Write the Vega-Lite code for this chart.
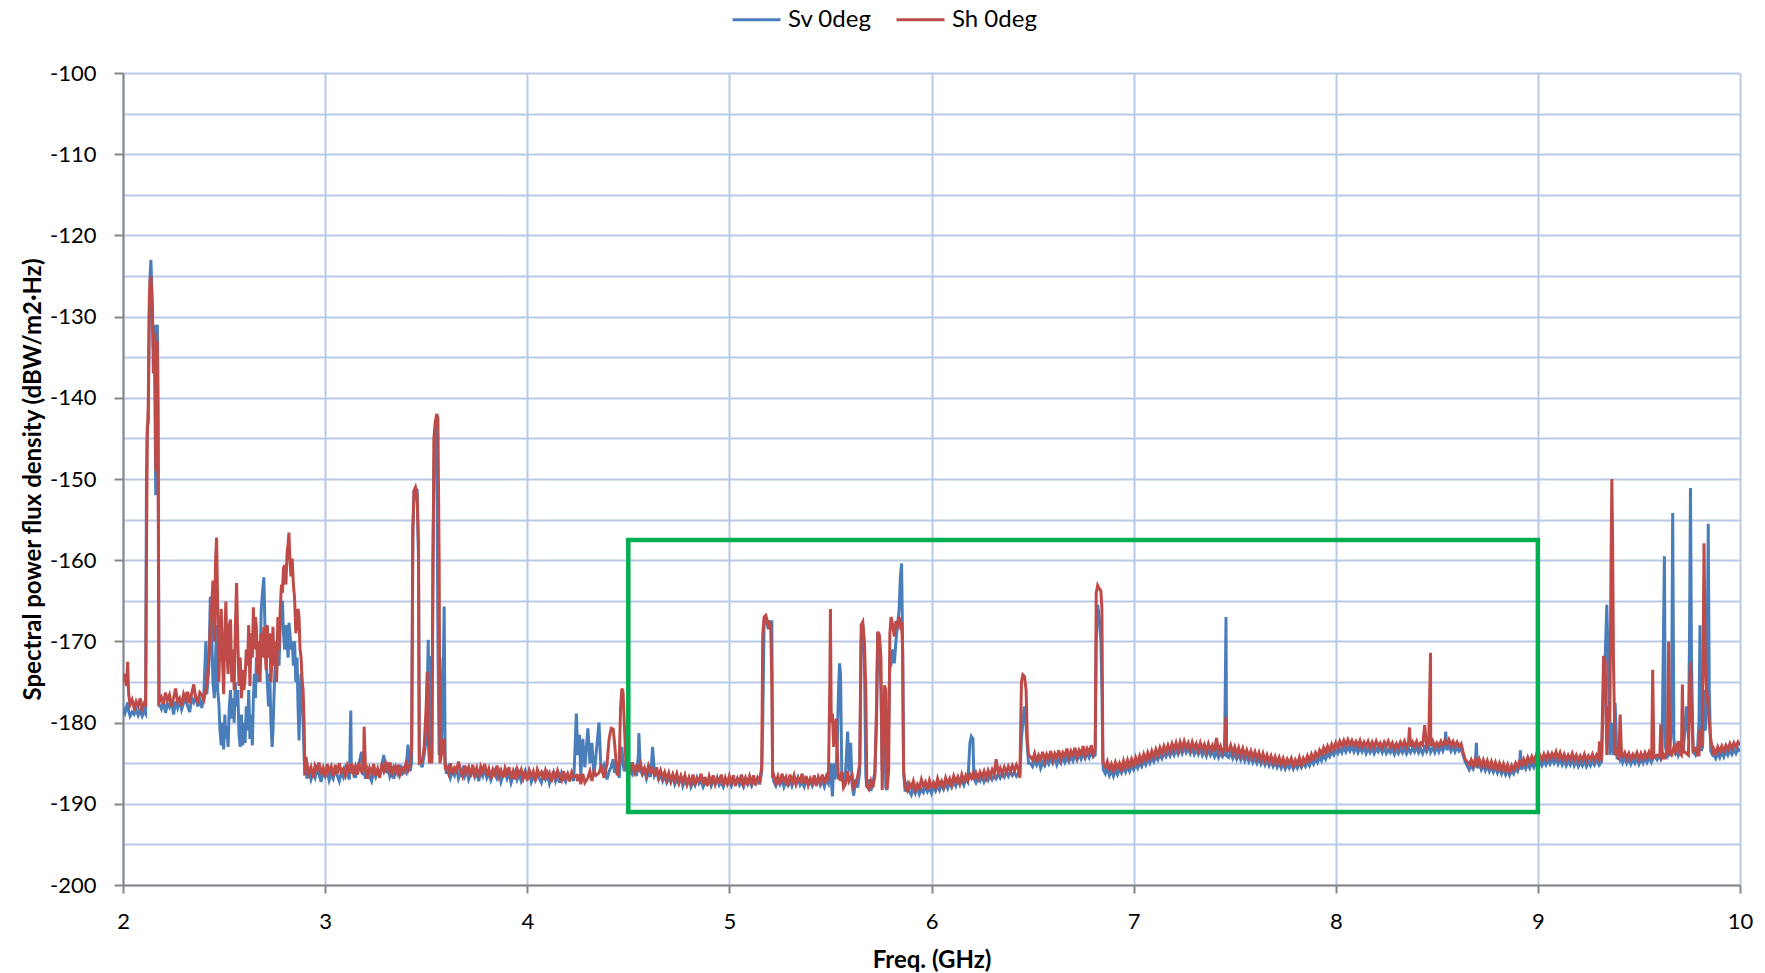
{
  "$schema": "https://vega.github.io/schema/vega-lite/v6.json",
  "width": 1617,
  "height": 812,
  "autosize": {"type": "none"},
  "padding": {"left": 123, "top": 73, "right": 25, "bottom": 88},
  "background": "white",
  "config": {
    "view": {"stroke": null},
    "font": "Lato",
    "axis": {
      "labelFont": "Lato", "labelFontSize": 22, "labelColor": "#000000", "labelFlush": false,
      "titleFont": "Lato", "titleFontSize": 24, "titleFontWeight": "bold", "titleColor": "#000000",
      "domainColor": "#868686", "domainWidth": 2,
      "tickColor": "#868686", "tickWidth": 2,
      "gridColor": "#b9cae9", "gridWidth": 2, "gridOpacity": 1
    },
    "legend": {"labelFont": "Lato", "labelFontSize": 24, "labelColor": "#000000"}
  },
  "datasets": {
    "spec": [
      {"f":2.000,"a":-179.0,"b":-175.0},{"f":2.005,"a":-178.5,"b":-174.0},{"f":2.010,"a":-178.8,"b":-174.5},{"f":2.018,"a":-178.0,"b":-175.5},{"f":2.023,"a":-177.5,"b":-172.5},{"f":2.028,"a":-178.6,"b":-176.5},{"f":2.035,"a":-179.2,"b":-177.8},{"f":2.045,"a":-178.7,"b":-177.2},{"f":2.055,"a":-179.0,"b":-178.2},{"f":2.065,"a":-178.4,"b":-177.4},{"f":2.075,"a":-179.1,"b":-178.0},{"f":2.085,"a":-178.5,"b":-177.0},{"f":2.095,"a":-179.2,"b":-178.3},{"f":2.105,"a":-178.6,"b":-177.6},{"f":2.112,"a":-178.9,"b":-178.0},
      {"f":2.116,"a":-150,"b":-160},{"f":2.120,"a":-143.5,"b":-145},{"f":2.125,"a":-143,"b":-141},{"f":2.130,"a":-130,"b":-128},{"f":2.134,"a":-125,"b":-125.5},{"f":2.138,"a":-123,"b":-125},{"f":2.142,"a":-126,"b":-127},{"f":2.146,"a":-131,"b":-129},{"f":2.150,"a":-134,"b":-137},{"f":2.154,"a":-131,"b":-133},{"f":2.158,"a":-140,"b":-132},{"f":2.162,"a":-152,"b":-149},{"f":2.166,"a":-132,"b":-137},{"f":2.170,"a":-131,"b":-133},{"f":2.174,"a":-142,"b":-150},{"f":2.178,"a":-177.8,"b":-177.5},{"f":2.185,"a":-178.0,"b":-177.2},
      {"f":2.19,"a":-178.3,"b":-176.9},{"f":2.20,"a":-177.3,"b":-177.7},{"f":2.21,"a":-178.8,"b":-176.3},{"f":2.22,"a":-177.7,"b":-177.3},{"f":2.23,"a":-178.1,"b":-176.6},{"f":2.24,"a":-177.1,"b":-178.0},{"f":2.25,"a":-179.0,"b":-177.0},{"f":2.26,"a":-177.4,"b":-175.8},{"f":2.27,"a":-178.2,"b":-177.4},{"f":2.28,"a":-177.2,"b":-177.0},{"f":2.29,"a":-178.4,"b":-177.9},{"f":2.30,"a":-177.6,"b":-176.5},{"f":2.31,"a":-176.8,"b":-177.2},{"f":2.32,"a":-178.0,"b":-176.2},{"f":2.33,"a":-178.7,"b":-177.6},{"f":2.34,"a":-177.0,"b":-176.4},{"f":2.35,"a":-177.5,"b":-175.3},{"f":2.36,"a":-176.7,"b":-177.0},{"f":2.37,"a":-178.0,"b":-177.4},{"f":2.38,"a":-177.2,"b":-176.3},{"f":2.39,"a":-178.2,"b":-176.6},{"f":2.40,"a":-176.4,"b":-177.2},
      {"f":2.41,"a":-170.0,"b":-176.0},{"f":2.415,"a":-176.5,"b":-175.5},{"f":2.425,"a":-173.0,"b":-172.0},{"f":2.432,"a":-164.5,"b":-168.0},{"f":2.438,"a":-168.0,"b":-166.0},{"f":2.445,"a":-175.0,"b":-162.5},{"f":2.452,"a":-177.0,"b":-170.0},{"f":2.458,"a":-172.0,"b":-160.0},
      {"f":2.463,"a":-168.0,"b":-157.2},{"f":2.468,"a":-176.0,"b":-165.0},{"f":2.474,"a":-177.5,"b":-175.0},{"f":2.480,"a":-181.0,"b":-170.0},{"f":2.486,"a":-182.8,"b":-166.0},{"f":2.492,"a":-180.0,"b":-172.0},{"f":2.498,"a":-183.3,"b":-176.5},{"f":2.504,"a":-179.0,"b":-169.0},{"f":2.509,"a":-182.0,"b":-165.1},{"f":2.514,"a":-180.5,"b":-171.0},{"f":2.520,"a":-183.0,"b":-174.0},{"f":2.526,"a":-178.0,"b":-168.0},{"f":2.532,"a":-176.0,"b":-167.3},{"f":2.538,"a":-179.5,"b":-175.0},{"f":2.544,"a":-177.0,"b":-171.0},{"f":2.550,"a":-180.0,"b":-176.0},{"f":2.556,"a":-175.0,"b":-168.0},{"f":2.562,"a":-178.0,"b":-162.8},{"f":2.568,"a":-176.0,"b":-170.0},{"f":2.574,"a":-181.5,"b":-175.5},{"f":2.580,"a":-183.0,"b":-172.0},{"f":2.586,"a":-179.0,"b":-177.0},{"f":2.592,"a":-182.8,"b":-173.5},{"f":2.598,"a":-180.0,"b":-176.0},{"f":2.604,"a":-182.5,"b":-174.5},{"f":2.610,"a":-178.0,"b":-171.0},{"f":2.616,"a":-181.0,"b":-173.0},{"f":2.622,"a":-176.0,"b":-168.0},{"f":2.628,"a":-182.0,"b":-175.5},{"f":2.634,"a":-179.0,"b":-169.0},{"f":2.640,"a":-182.8,"b":-172.0},{"f":2.645,"a":-177.0,"b":-165.8},{"f":2.650,"a":-174.0,"b":-171.0},{"f":2.655,"a":-177.0,"b":-167.0},{"f":2.660,"a":-172.0,"b":-168.2},{"f":2.666,"a":-175.0,"b":-174.0},{"f":2.672,"a":-170.0,"b":-170.0},{"f":2.678,"a":-173.0,"b":-175.0},{"f":2.684,"a":-166.0,"b":-169.0},{"f":2.690,"a":-164.0,"b":-172.0},{"f":2.697,"a":-162.1,"b":-168.2},{"f":2.702,"a":-168.0,"b":-170.0},{"f":2.708,"a":-172.0,"b":-173.5},{"f":2.714,"a":-175.0,"b":-168.0},{"f":2.720,"a":-178.0,"b":-172.0},{"f":2.726,"a":-174.0,"b":-169.0},{"f":2.732,"a":-180.0,"b":-175.0},{"f":2.738,"a":-183.0,"b":-171.0},{"f":2.742,"a":-181.0,"b":-168.2},{"f":2.748,"a":-176.0,"b":-173.0},{"f":2.754,"a":-172.0,"b":-170.0},{"f":2.760,"a":-174.0,"b":-175.0},{"f":2.766,"a":-170.0,"b":-167.0},{"f":2.772,"a":-173.0,"b":-171.0},{"f":2.778,"a":-168.0,"b":-166.0},{"f":2.784,"a":-167.0,"b":-163.0},{"f":2.789,"a":-165.0,"b":-164.0},{"f":2.794,"a":-169.0,"b":-161.0},{"f":2.800,"a":-171.0,"b":-160.6},{"f":2.806,"a":-168.0,"b":-163.0},{"f":2.812,"a":-170.0,"b":-159.0},{"f":2.817,"a":-172.0,"b":-158.0},{"f":2.821,"a":-167.7,"b":-156.6},{"f":2.826,"a":-169.0,"b":-160.0},{"f":2.831,"a":-171.0,"b":-162.0},{"f":2.837,"a":-170.0,"b":-159.8},{"f":2.843,"a":-173.0,"b":-163.0},{"f":2.849,"a":-170.0,"b":-164.7},{"f":2.855,"a":-175.0,"b":-169.0},{"f":2.861,"a":-172.0,"b":-168.0},{"f":2.866,"a":-178.0,"b":-166.0},{"f":2.871,"a":-182.2,"b":-167.0},{"f":2.876,"a":-176.0,"b":-171.0},{"f":2.881,"a":-174.0,"b":-172.0},{"f":2.886,"a":-177.0,"b":-174.6},{"f":2.891,"a":-180.0,"b":-176.0},{"f":2.896,"a":-184.0,"b":-180.0},{"f":2.900,"a":-186.5,"b":-186.5},{"f":2.905,"a":-185.0,"b":-184.2},
      {"f":2.91,"a":-186.9,"b":-185.0},{"f":2.92,"a":-185.9,"b":-186.2},{"f":2.93,"a":-187.0,"b":-185.5},{"f":2.94,"a":-186.2,"b":-186.8},{"f":2.95,"a":-186.8,"b":-185.3},{"f":2.96,"a":-185.7,"b":-185.9},{"f":2.97,"a":-186.4,"b":-184.9},{"f":2.98,"a":-187.3,"b":-186.4},{"f":2.99,"a":-186.0,"b":-185.6},{"f":3.00,"a":-186.6,"b":-186.7},{"f":3.01,"a":-185.9,"b":-185.1},{"f":3.02,"a":-187.1,"b":-186.0},{"f":3.03,"a":-186.3,"b":-185.4},{"f":3.04,"a":-186.9,"b":-186.6},{"f":3.05,"a":-185.8,"b":-185.2},{"f":3.06,"a":-186.5,"b":-186.3},{"f":3.07,"a":-187.2,"b":-185.0},{"f":3.08,"a":-186.1,"b":-186.1},{"f":3.09,"a":-186.7,"b":-185.7},{"f":3.10,"a":-185.6,"b":-186.5},{"f":3.11,"a":-186.4,"b":-185.3},{"f":3.12,"a":-187.0,"b":-186.0},{"f":3.127,"a":-178.5,"b":-185.6},{"f":3.13,"a":-186.3,"b":-185.0},{"f":3.14,"a":-185.7,"b":-186.2},{"f":3.15,"a":-186.8,"b":-185.4},{"f":3.16,"a":-185.4,"b":-186.4},{"f":3.17,"a":-184.8,"b":-185.2},{"f":3.18,"a":-183.6,"b":-186.0},{"f":3.19,"a":-186.5,"b":-185.5},{"f":3.193,"a":-186.0,"b":-180.5},{"f":3.20,"a":-186.9,"b":-185.8},{"f":3.21,"a":-185.8,"b":-186.9},{"f":3.22,"a":-186.6,"b":-185.6},{"f":3.23,"a":-187.2,"b":-186.2},{"f":3.24,"a":-186.0,"b":-185.1},{"f":3.25,"a":-186.7,"b":-186.5},{"f":3.26,"a":-185.9,"b":-185.7},{"f":3.27,"a":-186.4,"b":-186.8},{"f":3.28,"a":-185.5,"b":-185.3},{"f":3.29,"a":-184.0,"b":-186.0},{"f":3.30,"a":-186.2,"b":-185.0},{"f":3.31,"a":-185.4,"b":-185.8},{"f":3.32,"a":-186.6,"b":-184.9},{"f":3.33,"a":-185.8,"b":-186.2},{"f":3.34,"a":-186.9,"b":-185.5},{"f":3.35,"a":-185.6,"b":-186.1},{"f":3.36,"a":-186.3,"b":-185.2},{"f":3.37,"a":-185.2,"b":-186.4},{"f":3.38,"a":-186.5,"b":-185.6},{"f":3.39,"a":-185.7,"b":-186.0},{"f":3.40,"a":-186.1,"b":-185.0},{"f":3.41,"a":-182.7,"b":-185.9},{"f":3.42,"a":-186.0,"b":-185.2},{"f":3.428,"a":-185.0,"b":-183.0},
      {"f":3.434,"a":-156.3,"b":-156.3},{"f":3.440,"a":-151.4,"b":-151.4},{"f":3.447,"a":-152.0,"b":-151.0},{"f":3.455,"a":-151.2,"b":-152.0},{"f":3.462,"a":-160.0,"b":-158.0},{"f":3.466,"a":-184.5,"b":-185.0},{"f":3.48,"a":-185.5,"b":-184.8},{"f":3.49,"a":-184.0,"b":-183.0},{"f":3.500,"a":-182.0,"b":-178.0},{"f":3.505,"a":-177.0,"b":-173.7},{"f":3.510,"a":-169.8,"b":-182.0},{"f":3.516,"a":-183.0,"b":-185.0},{"f":3.522,"a":-171.8,"b":-184.0},{"f":3.528,"a":-184.5,"b":-185.0},{"f":3.533,"a":-160.0,"b":-165.0},{"f":3.538,"a":-150.0,"b":-145.0},{"f":3.545,"a":-143.5,"b":-143.0},{"f":3.552,"a":-144.0,"b":-142.0},{"f":3.558,"a":-170.0,"b":-142.5},{"f":3.564,"a":-184.0,"b":-160.0},{"f":3.568,"a":-172.0,"b":-185.0},{"f":3.575,"a":-183.0,"b":-184.0},{"f":3.582,"a":-178.0,"b":-182.5},{"f":3.589,"a":-165.7,"b":-182.0},{"f":3.594,"a":-185.0,"b":-185.5},
      {"f":3.60,"a":-186.3,"b":-185.4},{"f":3.61,"a":-185.6,"b":-186.2},{"f":3.62,"a":-186.8,"b":-185.0},{"f":3.63,"a":-186.0,"b":-186.4},{"f":3.64,"a":-186.5,"b":-185.6},{"f":3.65,"a":-185.4,"b":-186.0},{"f":3.66,"a":-186.9,"b":-184.8},{"f":3.67,"a":-186.2,"b":-185.9},{"f":3.68,"a":-185.7,"b":-186.6},{"f":3.69,"a":-186.6,"b":-185.3},{"f":3.70,"a":-185.9,"b":-186.1},{"f":3.71,"a":-187.0,"b":-185.5},{"f":3.72,"a":-186.3,"b":-186.7},{"f":3.73,"a":-185.8,"b":-185.2},{"f":3.74,"a":-186.7,"b":-186.3},{"f":3.75,"a":-186.1,"b":-185.6},{"f":3.76,"a":-187.2,"b":-186.8},{"f":3.77,"a":-186.0,"b":-185.4},{"f":3.78,"a":-186.6,"b":-186.0},{"f":3.79,"a":-185.7,"b":-185.1},{"f":3.80,"a":-186.8,"b":-186.5},{"f":3.81,"a":-186.2,"b":-185.7},{"f":3.82,"a":-187.1,"b":-186.9},{"f":3.83,"a":-186.4,"b":-185.8},{"f":3.84,"a":-185.9,"b":-186.4},{"f":3.85,"a":-186.8,"b":-185.3},{"f":3.86,"a":-186.1,"b":-186.6},{"f":3.87,"a":-187.3,"b":-185.9},{"f":3.88,"a":-186.5,"b":-186.8},{"f":3.89,"a":-186.0,"b":-185.6},{"f":3.90,"a":-186.9,"b":-186.3},{"f":3.91,"a":-186.2,"b":-185.5},{"f":3.92,"a":-187.4,"b":-186.9},{"f":3.93,"a":-186.6,"b":-186.0},{"f":3.94,"a":-186.0,"b":-187.0},{"f":3.95,"a":-187.0,"b":-185.7},{"f":3.96,"a":-186.3,"b":-186.4},{"f":3.97,"a":-187.2,"b":-185.8},{"f":3.98,"a":-186.5,"b":-186.9},{"f":3.99,"a":-185.9,"b":-186.2},{"f":4.00,"a":-186.8,"b":-187.1},{"f":4.01,"a":-186.1,"b":-185.9},{"f":4.02,"a":-187.3,"b":-186.6},{"f":4.03,"a":-186.6,"b":-186.0},{"f":4.04,"a":-187.1,"b":-187.2},{"f":4.05,"a":-186.2,"b":-185.8},{"f":4.06,"a":-186.9,"b":-186.5},{"f":4.07,"a":-187.4,"b":-186.1},{"f":4.08,"a":-186.4,"b":-187.0},{"f":4.09,"a":-187.0,"b":-185.9},{"f":4.10,"a":-186.3,"b":-186.7},{"f":4.11,"a":-187.5,"b":-186.2},{"f":4.12,"a":-186.7,"b":-187.3},{"f":4.13,"a":-186.1,"b":-186.0},{"f":4.14,"a":-187.2,"b":-186.8},{"f":4.15,"a":-186.5,"b":-185.9},{"f":4.16,"a":-187.4,"b":-186.6},{"f":4.17,"a":-186.2,"b":-187.1},{"f":4.18,"a":-186.9,"b":-186.0},{"f":4.19,"a":-187.3,"b":-186.9},{"f":4.20,"a":-186.4,"b":-186.3},{"f":4.21,"a":-187.0,"b":-187.2},{"f":4.22,"a":-186.6,"b":-186.1},{"f":4.23,"a":-187.2,"b":-186.7},
      {"f":4.243,"a":-178.9,"b":-186.5},{"f":4.25,"a":-184.0,"b":-187.2},{"f":4.258,"a":-181.5,"b":-186.4},{"f":4.265,"a":-186.5,"b":-187.6},{"f":4.275,"a":-182.0,"b":-186.3},{"f":4.285,"a":-185.5,"b":-187.4},{"f":4.30,"a":-180.7,"b":-186.8},{"f":4.31,"a":-185.0,"b":-186.0},{"f":4.32,"a":-182.5,"b":-187.2},{"f":4.33,"a":-186.6,"b":-186.0},{"f":4.34,"a":-184.0,"b":-186.5},{"f":4.355,"a":-180.0,"b":-186.2},{"f":4.365,"a":-186.0,"b":-185.4},{"f":4.38,"a":-185.2,"b":-186.8},{"f":4.395,"a":-187.0,"b":-185.0},{"f":4.405,"a":-186.0,"b":-182.0},{"f":4.415,"a":-185.5,"b":-180.7},{"f":4.425,"a":-184.5,"b":-180.8},{"f":4.432,"a":-186.2,"b":-182.5},{"f":4.445,"a":-185.0,"b":-186.5},{"f":4.455,"a":-186.8,"b":-185.0},{"f":4.462,"a":-184.0,"b":-178.0},{"f":4.468,"a":-183.0,"b":-175.8},{"f":4.474,"a":-185.0,"b":-176.2},{"f":4.480,"a":-186.0,"b":-180.0},{"f":4.49,"a":-184.6,"b":-186.0},
      {"f":4.50,"a":-186.0,"b":-185.2},{"f":4.51,"a":-185.4,"b":-185.9},{"f":4.52,"a":-186.3,"b":-184.9},{"f":4.53,"a":-185.7,"b":-186.1},{"f":4.54,"a":-186.6,"b":-185.4},{"f":4.55,"a":-184.0,"b":-185.8},{"f":4.552,"a":-181.3,"b":-185.5},{"f":4.56,"a":-185.9,"b":-185.0},{"f":4.57,"a":-186.4,"b":-186.2},{"f":4.58,"a":-185.8,"b":-185.6},{"f":4.59,"a":-186.9,"b":-186.4},{"f":4.60,"a":-186.1,"b":-185.3},{"f":4.61,"a":-186.7,"b":-186.0},{"f":4.62,"a":-183.0,"b":-185.7},{"f":4.63,"a":-186.5,"b":-186.6},{"f":4.64,"a":-186.0,"b":-185.5},{"f":4.65,"a":-187.0,"b":-186.7},{"f":4.66,"a":-186.4,"b":-185.9},{"f":4.67,"a":-187.2,"b":-186.8},{"f":4.68,"a":-186.6,"b":-186.1},{"f":4.69,"a":-187.4,"b":-187.0},{"f":4.70,"a":-186.8,"b":-186.2},{"f":4.71,"a":-187.3,"b":-187.2},{"f":4.72,"a":-186.5,"b":-186.4},{"f":4.73,"a":-187.6,"b":-187.1},{"f":4.74,"a":-187.0,"b":-186.3},{"f":4.75,"a":-187.5,"b":-187.4},{"f":4.76,"a":-186.7,"b":-186.6},{"f":4.77,"a":-187.8,"b":-187.3},{"f":4.78,"a":-187.1,"b":-186.5},{"f":4.79,"a":-187.6,"b":-187.6},{"f":4.80,"a":-186.9,"b":-186.8},{"f":4.81,"a":-187.9,"b":-187.5},{"f":4.82,"a":-187.2,"b":-186.4},{"f":4.83,"a":-187.7,"b":-187.7},{"f":4.84,"a":-186.8,"b":-186.9},{"f":4.85,"a":-187.5,"b":-187.2},{"f":4.86,"a":-187.1,"b":-186.3},{"f":4.87,"a":-187.9,"b":-187.6},{"f":4.88,"a":-187.3,"b":-186.7},{"f":4.89,"a":-187.6,"b":-187.8},{"f":4.90,"a":-186.9,"b":-186.6},{"f":4.91,"a":-187.8,"b":-187.4},{"f":4.92,"a":-187.2,"b":-186.5},{"f":4.93,"a":-187.5,"b":-187.6},{"f":4.94,"a":-186.8,"b":-186.9},{"f":4.95,"a":-187.7,"b":-187.3},{"f":4.96,"a":-187.3,"b":-186.4},{"f":4.97,"a":-187.9,"b":-187.7},{"f":4.98,"a":-187.0,"b":-186.8},{"f":4.99,"a":-187.6,"b":-187.5},{"f":5.00,"a":-187.2,"b":-186.6},{"f":5.01,"a":-187.8,"b":-187.4},{"f":5.02,"a":-187.1,"b":-186.5},{"f":5.03,"a":-187.5,"b":-187.8},{"f":5.04,"a":-186.9,"b":-186.9},{"f":5.05,"a":-187.7,"b":-187.3},{"f":5.06,"a":-187.3,"b":-186.4},{"f":5.07,"a":-187.9,"b":-187.6},{"f":5.08,"a":-187.0,"b":-186.8},{"f":5.09,"a":-187.6,"b":-187.5},{"f":5.10,"a":-187.2,"b":-186.6},{"f":5.11,"a":-187.8,"b":-187.4},{"f":5.12,"a":-187.1,"b":-186.5},{"f":5.13,"a":-187.5,"b":-187.7},{"f":5.14,"a":-186.9,"b":-186.8},{"f":5.15,"a":-187.6,"b":-187.2},{"f":5.16,"a":-186.0,"b":-185.5},
      {"f":5.165,"a":-180.0,"b":-169.2},{"f":5.172,"a":-167.5,"b":-167.0},{"f":5.180,"a":-167.2,"b":-166.8},{"f":5.188,"a":-168.0,"b":-167.5},{"f":5.196,"a":-167.4,"b":-168.5},{"f":5.204,"a":-168.5,"b":-167.6},{"f":5.210,"a":-167.4,"b":-175.0},{"f":5.214,"a":-186.5,"b":-186.8},
      {"f":5.22,"a":-187.3,"b":-186.5},{"f":5.23,"a":-187.8,"b":-187.4},{"f":5.24,"a":-187.0,"b":-186.6},{"f":5.25,"a":-187.6,"b":-187.6},{"f":5.26,"a":-186.9,"b":-186.3},{"f":5.27,"a":-187.9,"b":-187.2},{"f":5.28,"a":-187.2,"b":-186.7},{"f":5.29,"a":-187.7,"b":-187.8},{"f":5.30,"a":-187.0,"b":-186.4},{"f":5.31,"a":-187.8,"b":-187.3},{"f":5.32,"a":-187.1,"b":-186.5},{"f":5.33,"a":-187.5,"b":-187.6},{"f":5.34,"a":-186.8,"b":-186.8},{"f":5.35,"a":-187.7,"b":-187.2},{"f":5.36,"a":-187.3,"b":-186.3},{"f":5.37,"a":-187.9,"b":-187.5},{"f":5.38,"a":-187.0,"b":-186.6},{"f":5.39,"a":-187.6,"b":-187.7},{"f":5.40,"a":-187.2,"b":-186.9},{"f":5.41,"a":-187.8,"b":-187.4},{"f":5.42,"a":-187.1,"b":-186.5},{"f":5.43,"a":-187.5,"b":-187.8},{"f":5.44,"a":-186.9,"b":-186.7},{"f":5.45,"a":-187.7,"b":-187.3},{"f":5.46,"a":-187.2,"b":-186.4},{"f":5.47,"a":-187.9,"b":-187.5},{"f":5.48,"a":-187.0,"b":-186.6},{"f":5.49,"a":-187.5,"b":-187.2},
      {"f":5.497,"a":-186.0,"b":-175.0},{"f":5.500,"a":-185.0,"b":-166.0},{"f":5.504,"a":-187.0,"b":-180.0},{"f":5.510,"a":-189.1,"b":-178.9},{"f":5.516,"a":-185.0,"b":-183.0},{"f":5.522,"a":-187.0,"b":-181.0},{"f":5.528,"a":-186.0,"b":-179.5},{"f":5.534,"a":-182.0,"b":-183.5},{"f":5.540,"a":-176.0,"b":-187.0},{"f":5.545,"a":-172.7,"b":-186.5},{"f":5.550,"a":-174.0,"b":-187.2},{"f":5.556,"a":-186.0,"b":-186.0},{"f":5.565,"a":-187.5,"b":-188.0},{"f":5.575,"a":-186.0,"b":-187.5},{"f":5.585,"a":-181.1,"b":-186.0},{"f":5.592,"a":-186.0,"b":-187.2},{"f":5.600,"a":-182.5,"b":-186.8},{"f":5.607,"a":-187.6,"b":-186.5},{"f":5.615,"a":-189.0,"b":-188.0},{"f":5.625,"a":-187.0,"b":-187.5},{"f":5.635,"a":-188.0,"b":-186.6},{"f":5.645,"a":-186.0,"b":-185.0},{"f":5.652,"a":-170.0,"b":-168.0},{"f":5.660,"a":-168.0,"b":-167.6},{"f":5.668,"a":-172.0,"b":-170.0},{"f":5.675,"a":-186.5,"b":-176.0},{"f":5.680,"a":-188.0,"b":-187.8},{"f":5.690,"a":-187.0,"b":-188.2},{"f":5.700,"a":-188.4,"b":-187.2},{"f":5.710,"a":-187.5,"b":-188.0},{"f":5.720,"a":-186.0,"b":-186.5},{"f":5.728,"a":-180.0,"b":-178.0},{"f":5.734,"a":-169.0,"b":-168.8},{"f":5.742,"a":-170.0,"b":-169.2},{"f":5.750,"a":-176.0,"b":-172.0},{"f":5.756,"a":-186.0,"b":-188.3},{"f":5.762,"a":-184.0,"b":-183.0},{"f":5.768,"a":-176.0,"b":-175.4},{"f":5.774,"a":-188.0,"b":-176.0},{"f":5.780,"a":-188.3,"b":-188.2},{"f":5.788,"a":-180.0,"b":-186.0},{"f":5.794,"a":-172.5,"b":-169.0},{"f":5.800,"a":-172.7,"b":-167.0},{"f":5.808,"a":-171.0,"b":-168.0},{"f":5.816,"a":-172.7,"b":-169.4},{"f":5.824,"a":-170.0,"b":-167.5},{"f":5.832,"a":-168.0,"b":-168.0},{"f":5.840,"a":-166.0,"b":-167.0},{"f":5.846,"a":-162.0,"b":-168.0},{"f":5.852,"a":-160.4,"b":-167.6},{"f":5.857,"a":-170.0,"b":-171.0},{"f":5.862,"a":-186.0,"b":-186.0},{"f":5.870,"a":-188.5,"b":-188.0},{"f":5.880,"a":-187.6,"b":-188.4},
      {"f":5.89,"a":-188.4,"b":-187.5},{"f":5.90,"a":-188.9,"b":-188.0},{"f":5.91,"a":-188.1,"b":-187.2},{"f":5.92,"a":-188.7,"b":-188.3},{"f":5.93,"a":-187.9,"b":-187.6},{"f":5.94,"a":-188.8,"b":-188.1},{"f":5.95,"a":-188.2,"b":-187.0},{"f":5.96,"a":-188.6,"b":-187.8},{"f":5.97,"a":-187.8,"b":-187.3},{"f":5.98,"a":-188.5,"b":-188.2},{"f":5.99,"a":-188.0,"b":-187.1},{"f":6.00,"a":-188.7,"b":-187.9},{"f":6.01,"a":-187.9,"b":-187.4},{"f":6.02,"a":-188.4,"b":-188.0},{"f":6.03,"a":-187.7,"b":-186.9},{"f":6.04,"a":-188.3,"b":-187.7},{"f":6.05,"a":-187.6,"b":-187.2},{"f":6.06,"a":-188.2,"b":-187.9},{"f":6.07,"a":-187.5,"b":-186.8},{"f":6.08,"a":-188.1,"b":-187.5},{"f":6.09,"a":-187.3,"b":-186.9},{"f":6.10,"a":-187.9,"b":-187.7},{"f":6.11,"a":-187.2,"b":-186.6},{"f":6.12,"a":-187.8,"b":-187.3},{"f":6.13,"a":-187.0,"b":-186.7},{"f":6.14,"a":-187.6,"b":-187.5},{"f":6.15,"a":-187.1,"b":-186.4},{"f":6.16,"a":-187.7,"b":-187.2},{"f":6.17,"a":-186.9,"b":-186.5},{"f":6.18,"a":-187.3,"b":-187.1},{"f":6.19,"a":-182.5,"b":-186.4},{"f":6.197,"a":-181.7,"b":-186.8},{"f":6.205,"a":-182.0,"b":-186.3},{"f":6.21,"a":-186.9,"b":-187.0},{"f":6.22,"a":-187.4,"b":-186.2},{"f":6.23,"a":-186.8,"b":-186.9},{"f":6.24,"a":-187.2,"b":-186.1},{"f":6.25,"a":-186.6,"b":-186.7},{"f":6.26,"a":-187.3,"b":-186.0},{"f":6.27,"a":-186.7,"b":-186.8},{"f":6.28,"a":-187.1,"b":-185.9},{"f":6.29,"a":-186.4,"b":-186.6},{"f":6.30,"a":-187.0,"b":-185.8},{"f":6.31,"a":-186.5,"b":-186.4},{"f":6.32,"a":-186.9,"b":-184.5},{"f":6.33,"a":-186.3,"b":-186.2},{"f":6.34,"a":-186.8,"b":-185.6},{"f":6.35,"a":-186.2,"b":-186.3},{"f":6.36,"a":-186.7,"b":-185.5},{"f":6.37,"a":-186.1,"b":-186.1},{"f":6.38,"a":-186.6,"b":-185.4},{"f":6.39,"a":-186.0,"b":-186.0},{"f":6.40,"a":-186.5,"b":-185.3},{"f":6.41,"a":-186.1,"b":-185.9},{"f":6.42,"a":-186.6,"b":-185.2},{"f":6.43,"a":-186.2,"b":-185.8},{"f":6.437,"a":-186.6,"b":-186.8},
      {"f":6.445,"a":-182.0,"b":-175.0},{"f":6.452,"a":-180.0,"b":-174.1},{"f":6.460,"a":-178.0,"b":-174.3},{"f":6.468,"a":-180.5,"b":-176.0},{"f":6.474,"a":-183.0,"b":-182.0},{"f":6.48,"a":-185.0,"b":-184.0},
      {"f":6.49,"a":-185.0,"b":-184.2},{"f":6.50,"a":-185.4,"b":-184.6},{"f":6.51,"a":-184.7,"b":-183.8},{"f":6.52,"a":-185.2,"b":-184.9},{"f":6.53,"a":-184.5,"b":-184.0},{"f":6.54,"a":-185.6,"b":-184.5},{"f":6.55,"a":-184.9,"b":-183.6},{"f":6.56,"a":-185.3,"b":-184.7},{"f":6.57,"a":-184.6,"b":-183.9},{"f":6.58,"a":-185.1,"b":-184.4},{"f":6.59,"a":-184.4,"b":-183.5},{"f":6.60,"a":-185.0,"b":-184.6},{"f":6.61,"a":-184.3,"b":-183.8},{"f":6.62,"a":-185.2,"b":-184.3},{"f":6.63,"a":-184.6,"b":-183.4},{"f":6.64,"a":-185.0,"b":-184.5},{"f":6.65,"a":-184.2,"b":-183.7},{"f":6.66,"a":-184.9,"b":-184.1},{"f":6.67,"a":-184.3,"b":-183.2},{"f":6.68,"a":-184.8,"b":-184.3},{"f":6.69,"a":-184.1,"b":-183.5},{"f":6.70,"a":-184.7,"b":-184.0},{"f":6.71,"a":-184.0,"b":-183.1},{"f":6.72,"a":-184.6,"b":-184.2},{"f":6.73,"a":-183.9,"b":-183.4},{"f":6.74,"a":-184.5,"b":-183.9},{"f":6.75,"a":-183.8,"b":-182.9},{"f":6.76,"a":-184.4,"b":-184.0},{"f":6.77,"a":-183.7,"b":-183.2},{"f":6.78,"a":-184.3,"b":-183.7},{"f":6.79,"a":-183.6,"b":-182.8},{"f":6.80,"a":-184.2,"b":-183.9},{"f":6.81,"a":-184.0,"b":-183.2},
      {"f":6.815,"a":-170.0,"b":-164.0},{"f":6.822,"a":-165.5,"b":-163.1},{"f":6.830,"a":-167.0,"b":-163.5},{"f":6.838,"a":-170.0,"b":-163.8},{"f":6.843,"a":-176.0,"b":-166.0},{"f":6.848,"a":-185.0,"b":-184.5},
      {"f":6.85,"a":-185.8,"b":-185.0},{"f":6.86,"a":-186.3,"b":-185.5},{"f":6.87,"a":-185.6,"b":-184.8},{"f":6.88,"a":-186.5,"b":-185.7},{"f":6.89,"a":-185.9,"b":-185.1},{"f":6.90,"a":-186.6,"b":-185.9},{"f":6.91,"a":-185.8,"b":-184.9},{"f":6.92,"a":-186.4,"b":-185.6},{"f":6.93,"a":-185.7,"b":-185.0},{"f":6.94,"a":-186.2,"b":-185.8},{"f":6.95,"a":-185.5,"b":-184.7},{"f":6.96,"a":-186.1,"b":-185.5},{"f":6.97,"a":-185.4,"b":-184.6},{"f":6.98,"a":-186.0,"b":-185.4},{"f":6.99,"a":-185.2,"b":-184.5},{"f":7.00,"a":-185.8,"b":-185.2},{"f":7.01,"a":-185.1,"b":-184.3},{"f":7.02,"a":-185.6,"b":-185.0},{"f":7.03,"a":-184.9,"b":-184.1},{"f":7.04,"a":-185.4,"b":-184.8},{"f":7.05,"a":-184.7,"b":-183.9},{"f":7.06,"a":-185.2,"b":-184.6},{"f":7.07,"a":-184.5,"b":-183.7},{"f":7.08,"a":-185.0,"b":-184.4},{"f":7.09,"a":-184.3,"b":-183.5},{"f":7.10,"a":-184.8,"b":-184.2},{"f":7.11,"a":-184.1,"b":-183.3},{"f":7.12,"a":-184.6,"b":-184.0},{"f":7.13,"a":-183.9,"b":-183.1},{"f":7.14,"a":-184.4,"b":-183.8},{"f":7.15,"a":-183.7,"b":-182.9},{"f":7.16,"a":-184.2,"b":-183.6},{"f":7.17,"a":-183.6,"b":-182.8},{"f":7.18,"a":-184.1,"b":-183.5},{"f":7.19,"a":-183.4,"b":-182.6},{"f":7.20,"a":-184.0,"b":-183.3},{"f":7.21,"a":-183.3,"b":-182.5},{"f":7.22,"a":-183.9,"b":-183.4},{"f":7.23,"a":-183.2,"b":-182.4},{"f":7.24,"a":-183.8,"b":-183.2},{"f":7.25,"a":-183.1,"b":-182.3},{"f":7.26,"a":-183.7,"b":-183.1},{"f":7.27,"a":-183.2,"b":-182.5},{"f":7.28,"a":-183.8,"b":-183.3},{"f":7.29,"a":-183.1,"b":-182.4},{"f":7.30,"a":-183.9,"b":-183.2},{"f":7.31,"a":-183.3,"b":-182.6},{"f":7.32,"a":-183.9,"b":-183.4},{"f":7.33,"a":-183.2,"b":-182.5},{"f":7.34,"a":-184.0,"b":-183.3},{"f":7.35,"a":-183.4,"b":-182.7},{"f":7.36,"a":-184.1,"b":-183.5},{"f":7.37,"a":-183.3,"b":-182.6},{"f":7.38,"a":-184.0,"b":-183.4},{"f":7.39,"a":-183.5,"b":-182.8},{"f":7.40,"a":-184.2,"b":-183.6},{"f":7.41,"a":-183.6,"b":-181.9},{"f":7.42,"a":-184.3,"b":-183.5},{"f":7.43,"a":-183.7,"b":-182.9},{"f":7.44,"a":-184.2,"b":-183.7},{"f":7.45,"a":-183.8,"b":-183.1},{"f":7.457,"a":-167.0,"b":-179.3},{"f":7.46,"a":-184.1,"b":-183.4},
      {"f":7.47,"a":-184.3,"b":-183.5},{"f":7.48,"a":-183.6,"b":-182.8},{"f":7.49,"a":-184.4,"b":-183.7},{"f":7.50,"a":-183.8,"b":-183.0},{"f":7.51,"a":-184.5,"b":-183.9},{"f":7.52,"a":-183.9,"b":-183.1},{"f":7.53,"a":-184.6,"b":-184.0},{"f":7.54,"a":-184.0,"b":-183.2},{"f":7.55,"a":-184.7,"b":-184.1},{"f":7.56,"a":-184.1,"b":-183.4},{"f":7.57,"a":-184.8,"b":-184.2},{"f":7.58,"a":-184.2,"b":-183.5},{"f":7.59,"a":-184.9,"b":-184.3},{"f":7.60,"a":-184.3,"b":-183.6},{"f":7.61,"a":-185.0,"b":-184.4},{"f":7.62,"a":-184.4,"b":-183.7},{"f":7.63,"a":-185.1,"b":-184.6},{"f":7.64,"a":-184.5,"b":-183.8},{"f":7.65,"a":-185.2,"b":-184.7},{"f":7.66,"a":-184.6,"b":-184.0},{"f":7.67,"a":-185.3,"b":-184.8},{"f":7.68,"a":-184.7,"b":-184.1},{"f":7.69,"a":-185.4,"b":-184.9},{"f":7.70,"a":-184.8,"b":-184.2},{"f":7.71,"a":-185.5,"b":-185.0},{"f":7.72,"a":-184.9,"b":-184.3},{"f":7.73,"a":-185.6,"b":-185.1},{"f":7.74,"a":-185.0,"b":-184.4},{"f":7.75,"a":-185.7,"b":-185.2},{"f":7.76,"a":-185.1,"b":-184.5},{"f":7.77,"a":-185.6,"b":-185.0},{"f":7.78,"a":-185.0,"b":-184.4},{"f":7.79,"a":-185.7,"b":-185.3},{"f":7.80,"a":-185.1,"b":-184.6},{"f":7.81,"a":-185.6,"b":-185.1},{"f":7.82,"a":-185.0,"b":-184.3},{"f":7.83,"a":-185.5,"b":-185.2},{"f":7.84,"a":-184.9,"b":-184.4},{"f":7.85,"a":-185.4,"b":-184.9},{"f":7.86,"a":-184.8,"b":-184.1},{"f":7.87,"a":-185.3,"b":-184.7},{"f":7.88,"a":-184.6,"b":-183.9},{"f":7.89,"a":-185.1,"b":-184.5},{"f":7.90,"a":-184.4,"b":-183.7},{"f":7.91,"a":-184.9,"b":-184.2},{"f":7.92,"a":-184.2,"b":-183.4},{"f":7.93,"a":-184.7,"b":-183.9},{"f":7.94,"a":-184.0,"b":-183.1},{"f":7.95,"a":-184.5,"b":-183.7},{"f":7.96,"a":-183.8,"b":-182.9},{"f":7.97,"a":-184.2,"b":-183.5},{"f":7.98,"a":-183.6,"b":-182.7},{"f":7.99,"a":-184.0,"b":-183.3},{"f":8.00,"a":-183.4,"b":-182.5},{"f":8.01,"a":-183.8,"b":-183.1},{"f":8.02,"a":-183.2,"b":-182.3},{"f":8.03,"a":-183.7,"b":-182.9},{"f":8.04,"a":-183.0,"b":-182.2},{"f":8.05,"a":-183.6,"b":-182.8},{"f":8.06,"a":-183.0,"b":-182.1},{"f":8.07,"a":-183.5,"b":-182.7},{"f":8.08,"a":-182.9,"b":-182.2},{"f":8.09,"a":-183.6,"b":-182.8},{"f":8.10,"a":-183.0,"b":-182.3},{"f":8.11,"a":-183.7,"b":-182.9},{"f":8.12,"a":-183.1,"b":-182.2},{"f":8.13,"a":-183.6,"b":-183.0},{"f":8.14,"a":-183.0,"b":-182.4},{"f":8.15,"a":-183.8,"b":-182.9},{"f":8.16,"a":-183.2,"b":-182.3},{"f":8.17,"a":-183.7,"b":-183.1},{"f":8.18,"a":-183.1,"b":-182.4},{"f":8.19,"a":-183.8,"b":-183.0},{"f":8.20,"a":-183.2,"b":-182.3},{"f":8.21,"a":-183.6,"b":-182.9},{"f":8.22,"a":-183.0,"b":-182.5},{"f":8.23,"a":-183.7,"b":-183.1},{"f":8.24,"a":-183.1,"b":-182.4},{"f":8.25,"a":-183.8,"b":-182.9},{"f":8.26,"a":-183.3,"b":-182.3},{"f":8.27,"a":-183.7,"b":-183.0},{"f":8.28,"a":-183.2,"b":-182.5},{"f":8.29,"a":-183.9,"b":-183.2},{"f":8.30,"a":-183.3,"b":-182.6},{"f":8.31,"a":-183.8,"b":-183.1},{"f":8.32,"a":-183.2,"b":-182.4},{"f":8.33,"a":-183.7,"b":-182.9},{"f":8.34,"a":-183.1,"b":-182.3},{"f":8.35,"a":-183.8,"b":-183.0},{"f":8.36,"a":-183.2,"b":-182.4},{"f":8.365,"a":-183.5,"b":-180.6},{"f":8.37,"a":-183.7,"b":-183.0},{"f":8.38,"a":-183.1,"b":-182.4},{"f":8.39,"a":-183.6,"b":-182.9},{"f":8.40,"a":-183.0,"b":-182.3},{"f":8.41,"a":-183.7,"b":-183.0},{"f":8.42,"a":-183.2,"b":-182.5},{"f":8.43,"a":-183.8,"b":-182.8},{"f":8.44,"a":-183.1,"b":-180.3},{"f":8.45,"a":-183.6,"b":-182.9},{"f":8.46,"a":-183.0,"b":-182.4},{"f":8.469,"a":-183.4,"b":-171.4},{"f":8.47,"a":-183.6,"b":-182.9},{"f":8.48,"a":-183.1,"b":-182.3},{"f":8.49,"a":-183.7,"b":-183.0},{"f":8.50,"a":-183.0,"b":-182.5},{"f":8.51,"a":-183.6,"b":-182.9},{"f":8.52,"a":-182.9,"b":-182.3},{"f":8.53,"a":-183.5,"b":-182.8},{"f":8.54,"a":-182.8,"b":-182.2},{"f":8.544,"a":-181.1,"b":-182.6},{"f":8.55,"a":-183.4,"b":-182.7},{"f":8.56,"a":-182.8,"b":-182.1},{"f":8.57,"a":-183.5,"b":-182.8},{"f":8.58,"a":-182.9,"b":-182.3},{"f":8.59,"a":-183.6,"b":-182.9},{"f":8.60,"a":-183.0,"b":-182.4},{"f":8.61,"a":-183.5,"b":-182.9},{"f":8.62,"a":-183.1,"b":-182.6},{"f":8.63,"a":-184.0,"b":-183.6},{"f":8.64,"a":-184.8,"b":-184.5},{"f":8.65,"a":-185.3,"b":-184.8},{"f":8.66,"a":-185.8,"b":-185.2},{"f":8.67,"a":-185.2,"b":-184.6},{"f":8.68,"a":-185.7,"b":-185.3},{"f":8.69,"a":-185.1,"b":-184.5},{"f":8.696,"a":-182.5,"b":-184.9},{"f":8.70,"a":-185.6,"b":-185.2},{"f":8.71,"a":-185.0,"b":-184.5},{"f":8.72,"a":-185.8,"b":-185.3},{"f":8.73,"a":-185.2,"b":-184.6},{"f":8.74,"a":-185.9,"b":-185.4},{"f":8.75,"a":-185.3,"b":-184.7},{"f":8.76,"a":-186.0,"b":-185.5},{"f":8.77,"a":-185.4,"b":-184.8},{"f":8.78,"a":-186.1,"b":-185.6},{"f":8.79,"a":-185.5,"b":-184.9},{"f":8.80,"a":-186.2,"b":-185.7},{"f":8.81,"a":-185.6,"b":-185.0},{"f":8.82,"a":-186.3,"b":-185.8},{"f":8.83,"a":-185.7,"b":-185.1},{"f":8.84,"a":-186.4,"b":-185.9},{"f":8.85,"a":-185.8,"b":-185.2},{"f":8.86,"a":-186.5,"b":-186.0},{"f":8.87,"a":-185.9,"b":-185.3},{"f":8.88,"a":-186.3,"b":-185.8},{"f":8.89,"a":-185.6,"b":-185.0},{"f":8.90,"a":-186.0,"b":-185.5},{"f":8.91,"a":-185.2,"b":-184.6},{"f":8.913,"a":-183.4,"b":-185.0},{"f":8.92,"a":-185.8,"b":-185.2},{"f":8.93,"a":-185.1,"b":-184.5},{"f":8.94,"a":-185.7,"b":-185.1},{"f":8.95,"a":-185.0,"b":-184.3},{"f":8.96,"a":-185.6,"b":-184.9},{"f":8.97,"a":-184.9,"b":-184.2},{"f":8.98,"a":-185.5,"b":-184.8},{"f":8.99,"a":-184.9,"b":-184.1},
      {"f":9.00,"a":-185.4,"b":-184.7},{"f":9.01,"a":-184.8,"b":-184.0},{"f":9.02,"a":-185.3,"b":-184.6},{"f":9.03,"a":-184.7,"b":-183.9},{"f":9.04,"a":-185.2,"b":-184.5},{"f":9.05,"a":-184.6,"b":-183.8},{"f":9.06,"a":-185.1,"b":-184.4},{"f":9.07,"a":-184.5,"b":-183.8},{"f":9.08,"a":-185.0,"b":-184.3},{"f":9.09,"a":-184.4,"b":-183.6},{"f":9.10,"a":-185.1,"b":-184.4},{"f":9.11,"a":-184.5,"b":-183.7},{"f":9.12,"a":-185.2,"b":-184.5},{"f":9.13,"a":-184.6,"b":-183.9},{"f":9.14,"a":-185.3,"b":-184.6},{"f":9.15,"a":-184.7,"b":-184.0},{"f":9.16,"a":-185.2,"b":-184.5},{"f":9.17,"a":-184.6,"b":-183.8},{"f":9.18,"a":-185.3,"b":-184.6},{"f":9.19,"a":-184.7,"b":-184.0},{"f":9.20,"a":-185.4,"b":-184.7},{"f":9.21,"a":-184.8,"b":-184.1},{"f":9.22,"a":-185.3,"b":-184.6},{"f":9.23,"a":-184.7,"b":-183.9},{"f":9.24,"a":-185.4,"b":-184.7},{"f":9.25,"a":-184.8,"b":-184.1},{"f":9.26,"a":-185.3,"b":-184.5},{"f":9.27,"a":-184.7,"b":-183.9},{"f":9.28,"a":-185.2,"b":-184.6},{"f":9.29,"a":-184.6,"b":-184.0},{"f":9.30,"a":-185.1,"b":-184.5},{"f":9.305,"a":-184.5,"b":-182.3},{"f":9.31,"a":-185.0,"b":-184.4},
      {"f":9.315,"a":-184.8,"b":-184.5},{"f":9.325,"a":-176.0,"b":-171.8},{"f":9.333,"a":-172.0,"b":-172.5},{"f":9.341,"a":-165.5,"b":-184.0},{"f":9.348,"a":-173.0,"b":-178.0},{"f":9.356,"a":-184.0,"b":-180.0},{"f":9.362,"a":-183.0,"b":-160.0},{"f":9.366,"a":-180.0,"b":-150.0},{"f":9.370,"a":-181.0,"b":-158.0},{"f":9.374,"a":-184.0,"b":-172.3},{"f":9.382,"a":-177.6,"b":-184.0},{"f":9.392,"a":-184.5,"b":-183.5},{"f":9.400,"a":-184.0,"b":-184.6},{"f":9.407,"a":-184.6,"b":-179.0},{"f":9.414,"a":-184.2,"b":-184.0},
      {"f":9.42,"a":-184.9,"b":-184.2},{"f":9.43,"a":-184.3,"b":-183.7},{"f":9.44,"a":-185.0,"b":-184.4},{"f":9.45,"a":-184.4,"b":-183.8},{"f":9.46,"a":-185.1,"b":-184.5},{"f":9.47,"a":-184.5,"b":-183.9},{"f":9.48,"a":-185.0,"b":-184.3},{"f":9.49,"a":-184.4,"b":-183.7},{"f":9.50,"a":-185.1,"b":-184.5},{"f":9.51,"a":-184.5,"b":-183.8},{"f":9.52,"a":-185.0,"b":-184.4},{"f":9.53,"a":-184.3,"b":-183.7},{"f":9.54,"a":-184.9,"b":-184.3},{"f":9.55,"a":-184.3,"b":-183.6},{"f":9.56,"a":-184.8,"b":-184.2},
      {"f":9.563,"a":-184.3,"b":-184.5},{"f":9.568,"a":-184.5,"b":-173.5},{"f":9.574,"a":-184.0,"b":-184.3},{"f":9.59,"a":-184.6,"b":-184.0},{"f":9.603,"a":-184.0,"b":-184.2},{"f":9.608,"a":-184.4,"b":-180.2},{"f":9.614,"a":-184.0,"b":-184.3},{"f":9.621,"a":-170.0,"b":-184.0},{"f":9.626,"a":-159.5,"b":-184.5},{"f":9.631,"a":-183.0,"b":-184.0},{"f":9.641,"a":-184.2,"b":-183.5},{"f":9.647,"a":-184.0,"b":-170.0},{"f":9.653,"a":-183.5,"b":-183.8},{"f":9.661,"a":-180.0,"b":-184.0},{"f":9.667,"a":-154.2,"b":-183.5},{"f":9.673,"a":-182.0,"b":-183.0},{"f":9.68,"a":-184.0,"b":-183.6},{"f":9.688,"a":-183.2,"b":-182.8},{"f":9.695,"a":-184.0,"b":-182.3},{"f":9.703,"a":-183.5,"b":-183.8},{"f":9.710,"a":-183.0,"b":-184.0},{"f":9.715,"a":-183.8,"b":-175.3},{"f":9.720,"a":-183.3,"b":-183.5},{"f":9.735,"a":-178.0,"b":-183.8},{"f":9.745,"a":-182.0,"b":-184.0},{"f":9.750,"a":-170.0,"b":-176.0},{"f":9.755,"a":-151.1,"b":-172.5},{"f":9.760,"a":-172.0,"b":-178.0},{"f":9.768,"a":-183.5,"b":-183.5},{"f":9.78,"a":-184.0,"b":-183.2},{"f":9.79,"a":-183.3,"b":-184.0},{"f":9.797,"a":-180.0,"b":-184.0},{"f":9.802,"a":-168.0,"b":-180.9},{"f":9.808,"a":-183.5,"b":-183.0},{"f":9.815,"a":-183.0,"b":-180.0},{"f":9.822,"a":-176.0,"b":-157.9},{"f":9.828,"a":-181.0,"b":-172.5},{"f":9.835,"a":-178.0,"b":-176.0},{"f":9.843,"a":-155.5,"b":-178.0},{"f":9.848,"a":-176.0,"b":-180.0},{"f":9.855,"a":-183.5,"b":-182.0},{"f":9.865,"a":-184.0,"b":-183.5},
      {"f":9.87,"a":-183.9,"b":-183.2},{"f":9.88,"a":-184.4,"b":-183.8},{"f":9.89,"a":-183.7,"b":-183.0},{"f":9.90,"a":-184.3,"b":-183.6},{"f":9.91,"a":-183.6,"b":-182.9},{"f":9.92,"a":-184.2,"b":-183.5},{"f":9.93,"a":-183.5,"b":-182.8},{"f":9.94,"a":-184.0,"b":-183.3},{"f":9.95,"a":-183.4,"b":-182.6},{"f":9.96,"a":-183.9,"b":-183.2},{"f":9.97,"a":-183.3,"b":-182.5},{"f":9.98,"a":-183.8,"b":-183.0},{"f":9.99,"a":-183.2,"b":-182.4},{"f":10.00,"a":-183.6,"b":-182.8}
    ],
    "box": [{"f": 4.5, "f2": 9.0, "p": -157.5, "p2": -191.0}]
  },
  "encoding": {
    "x": {"field": "f", "type": "quantitative", "scale": {"domain": [2, 10], "nice": false, "zero": false},
      "axis": {"title": "Freq. (GHz)", "values": [2, 3, 4, 5, 6, 7, 8, 9, 10], "format": "d", "grid": true, "tickSize": 8, "labelPadding": 18, "titlePadding": 16}},
    "y": {"field": "p", "type": "quantitative", "scale": {"domain": [-200, -100], "nice": false, "zero": false},
      "axis": {"title": "Spectral power flux density (dBW/m2·Hz)", "values": [-200, -195, -190, -185, -180, -175, -170, -165, -160, -155, -150, -145, -140, -135, -130, -125, -120, -115, -110, -105, -100],
        "labelExpr": "datum.value % 10 === 0 ? '' + datum.value : ''",
        "tickColor": {"condition": {"test": "datum.value % 10 === 0", "value": "#868686"}, "value": "transparent"},
        "grid": true, "tickSize": 9, "labelPadding": 18, "titlePadding": 4}}
  },
  "layer": [
    {
      "data": {"name": "spec"},
      "transform": [{"fold": ["a", "b"], "as": ["s", "p"]}, {"filter": "datum.s === 'a'"}],
      "mark": {"type": "line", "strokeWidth": 3, "clip": true, "interpolate": "linear"},
      "encoding": {
        "color": {"field": "s", "type": "nominal", "scale": {"domain": ["a", "b"], "range": ["#4a7ebb", "#be4b48"]},
          "legend": {"title": null, "orient": "none", "legendX": 608, "legendY": -79, "direction": "horizontal",
            "labelExpr": "datum.value === 'a' ? 'Sv 0deg' : 'Sh 0deg'", "symbolType": "stroke", "symbolSize": 2304, "symbolStrokeWidth": 3, "columnPadding": 18, "labelOffset": 6}}
      }
    },
    {
      "data": {"name": "spec"},
      "transform": [{"fold": ["a", "b"], "as": ["s", "p"]}, {"filter": "datum.s === 'b'"}],
      "mark": {"type": "line", "strokeWidth": 3, "clip": true, "interpolate": "linear"},
      "encoding": {
        "color": {"field": "s", "type": "nominal", "scale": {"domain": ["a", "b"], "range": ["#4a7ebb", "#be4b48"]},
          "legend": {"title": null, "orient": "none", "legendX": 608, "legendY": -79, "direction": "horizontal",
            "labelExpr": "datum.value === 'a' ? 'Sv 0deg' : 'Sh 0deg'", "symbolType": "stroke", "symbolSize": 2304, "symbolStrokeWidth": 3, "columnPadding": 18, "labelOffset": 6}}
      }
    },
    {
      "data": {"name": "box"},
      "mark": {"type": "rect", "fill": null, "stroke": "#00b050", "strokeWidth": 4.5},
      "encoding": {
        "x2": {"field": "f2"},
        "y2": {"field": "p2"}
      }
    }
  ]
}
